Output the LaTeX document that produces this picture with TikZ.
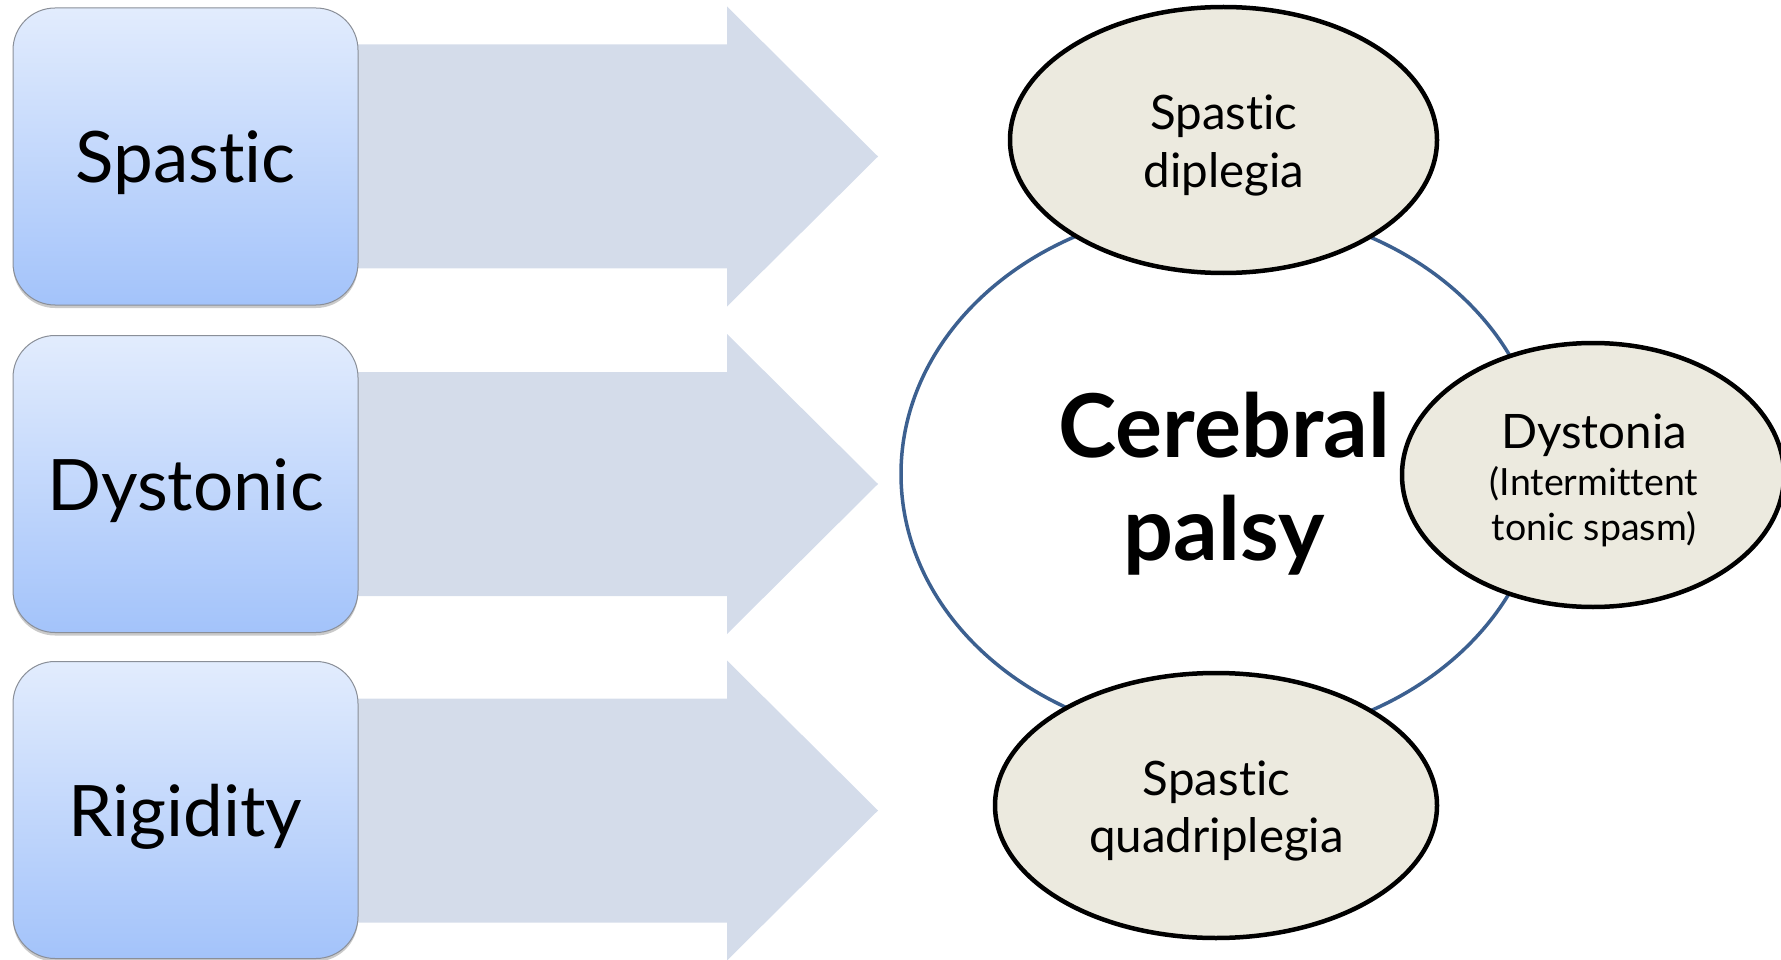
\documentclass[tikz,border=0pt]{standalone}
\usepackage{fontspec}
\setmainfont{Lato}[Ligatures=NoCommon]
\usetikzlibrary{shapes.geometric,shadows}
\definecolor{arrowc}{HTML}{D4DCEA}
\definecolor{boxtop}{HTML}{E2ECFD}
\definecolor{boxbot}{HTML}{A3C3FA}
\definecolor{boxline}{HTML}{8A8F98}
\definecolor{cpblue}{HTML}{3C6090}
\definecolor{ovalfill}{HTML}{ECEADF}
\tikzset{
  typebox/.style={rectangle, rounded corners=42pt, minimum width=345pt, minimum height=297pt,
    top color=boxtop, bottom color=boxbot, draw=boxline, line width=1pt,
    drop shadow={shadow xshift=0pt, shadow yshift=-3pt, opacity=0.35, fill=black!60}},
  typetext/.style={anchor=base, font=\fontsize{71}{80}\selectfont, inner sep=0pt},
  blockarrow/.style={fill=arrowc},
  cpoval/.style={ellipse, draw=cpblue, line width=3.5pt, fill=white, inner sep=0pt},
  suboval/.style={ellipse, draw=black, line width=4.5pt, fill=ovalfill, inner sep=0pt},
  subtext/.style={anchor=base, font=\fontsize{47.5}{56}\selectfont, inner sep=0pt},
  smalltext/.style={anchor=base, font=\fontsize{37.5}{44}\selectfont, inner sep=0pt},
  cptext/.style={anchor=base, font=\fontsize{88}{96}\selectfont\bfseries, inner sep=0pt}
}
\begin{document}
\begin{tikzpicture}[x=1pt,y=-1pt]
\useasboundingbox (0,0) rectangle (1781,960);
% block arrows
\foreach \cy in {156.5,484,810.5}{
  \fill[blockarrow] (340,\cy-112) -- (727,\cy-112) -- (727,\cy-150) -- (878,\cy)
    -- (727,\cy+150) -- (727,\cy+112) -- (340,\cy+112) -- cycle;
}
% left boxes
\node[typebox] (b1) at (185.5,156.5) {};
\node[typebox] (b2) at (185.5,484) {};
\node[typebox] (b3) at (185.5,810) {};
\node[typetext] (t1) at (185.5,183) {Spastic};
\node[typetext] (t2) at (185.5,510) {Dystonic};
\node[typetext] (t3) at (185.5,836) {Rigidity};
% central oval
\node[cpoval, minimum width=642pt, minimum height=534pt] (cp) at (1222,474) {};
\node[cptext] (cp1) at (1224,457) {Cerebral};
\node[cptext] (cp2) at (1224,560) {palsy};
% sub ovals
\node[suboval, minimum width=427pt, minimum height=266pt] (sd) at (1223.5,140) {};
\node[subtext] (sd1) at (1224,130) {Spastic};
\node[subtext] (sd2) at (1224,188) {diplegia};
\node[suboval, minimum width=382pt, minimum height=264pt] (dy) at (1593,475) {};
\node[subtext] (dy1) at (1594,448) {Dystonia};
\node[smalltext] (dy2) at (1594,495) {(Intermittent};
\node[smalltext] (dy3) at (1594,540) {tonic spasm)};
\node[suboval, minimum width=442pt, minimum height=265pt] (sq) at (1216,805.5) {};
\node[subtext] (sq1) at (1216.5,795) {Spastic};
\node[subtext] (sq2) at (1216.5,852) {quadriplegia};
\end{tikzpicture}
\end{document}
